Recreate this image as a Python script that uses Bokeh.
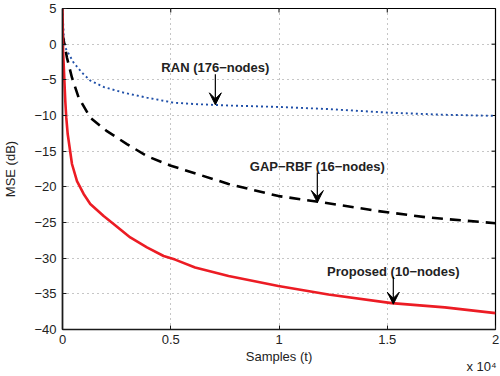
from bokeh.plotting import figure
from bokeh.models import LinearAxis, FixedTicker, Label, Arrow, VeeHead, Range1d
from bokeh.embed import file_html
from bokeh.resources import INLINE

# ---- data ----
ran_t = [0, 60, 129, 516, 900, 1283, 1900, 2820, 3900, 5130, 6125, 7670, 9970, 12280, 15050, 17660, 20000]
ran_mse = [5, 1.0, -0.5, -2.6, -4.0, -5.1, -6.0, -6.8, -7.5, -8.2, -8.4, -8.6, -8.8, -9.1, -9.6, -9.9, -10.05]

gap_t = [0, 207, 438, 747, 1283, 2053, 2975, 3900, 4970, 7670, 9980, 11820, 14590, 16890, 20000]
gap_mse = [1.4, -1.9, -4.7, -7.5, -10.3, -12.2, -14.0, -15.7, -17.0, -19.6, -21.3, -22.1, -23.4, -24.3, -25.1]

prop_t = [0, 28, 129, 175, 240, 438, 669, 977, 1283, 1900, 2360, 3130, 3900, 4670, 5200, 6125, 7670, 9970, 12280, 15200, 17660, 20000]
prop_mse = [5, -1, -8, -10.3, -12.6, -16.8, -19.2, -21.0, -22.4, -24.1, -25.2, -27.1, -28.5, -29.7, -30.2, -31.3, -32.5, -33.9, -35.1, -36.3, -36.9, -37.7]

x_ticks = [0, 5000, 10000, 15000, 20000]
x_tick_labels = ["0", "0.5", "1", "1.5", "2"]
y_ticks = [5, 0, -5, -10, -15, -20, -25, -30, -35, -40]
y_tick_labels = ["5", "0", "\u22125", "\u221210", "\u221215", "\u221220", "\u221225", "\u221230", "\u221235", "\u221240"]

annotations = [
    # text, text_x, text_y, arrow_start_y, arrow_tip_y
    ("RAN (176\u2212nodes)", 7060, -3.25, -4.2, -8.5),
    ("GAP\u2212RBF (16\u2212nodes)", 11770, -17.1, -18.0, -22.2),
    ("Proposed (10\u2212nodes)", 15280, -31.8, -32.6, -36.45),
]

x_label = "Samples (t)"
x_scale_label = "x 10\u2074"

FONT = "Liberation Sans"
TXT = "#222222"

W, H = 500, 376
BL, BR, BT, BB = 61, 5, 8, 47
X0, X1, Y0, Y1 = 0, 20000, -40, 5

p = figure(width=W, height=H, title=None,
           x_range=Range1d(X0, X1), y_range=Range1d(Y0, Y1),
           output_backend="svg", toolbar_location=None,
           min_border_left=BL, min_border_right=BR, min_border_top=BT, min_border_bottom=BB)
p.background_fill_color = "white"
p.border_fill_color = "white"
p.outline_line_color = "black"
p.outline_line_width = 1.2

xt = FixedTicker(ticks=x_ticks)
yt = FixedTicker(ticks=y_ticks)

for ax in [p.xaxis[0], p.yaxis[0]]:
    ax.major_tick_in = 4
    ax.major_tick_out = 0
    ax.minor_tick_in = 0
    ax.minor_tick_out = 0
    ax.axis_line_width = 1.6
    ax.axis_line_color = "#1a1a1a"
    ax.major_tick_line_color = "#1a1a1a"
    ax.major_label_text_font = FONT
    ax.major_label_text_font_size = "13px"
    ax.major_label_text_color = TXT
    ax.axis_label_text_font = FONT
    ax.axis_label_text_font_size = "13px"
    ax.axis_label_text_font_style = "normal"
    ax.axis_label_text_color = TXT
p.xaxis[0].ticker = xt
p.yaxis[0].ticker = yt
p.xaxis[0].major_label_overrides = dict(zip(x_ticks, x_tick_labels))
p.yaxis[0].major_label_overrides = dict(zip(y_ticks, y_tick_labels))
p.xaxis[0].major_label_standoff = 5
p.yaxis[0].major_label_standoff = 6

p.yaxis[0].axis_label = "MSE (dB)"
p.yaxis[0].axis_label_standoff = 13
p.xaxis[0].axis_label = x_label
p.xaxis[0].axis_label_standoff = 2

# the x 10^4 multiplier, drawn as a tick label of a bare axis just under the x-axis title
scale_pos = 19355
ax2 = LinearAxis(ticker=FixedTicker(ticks=[scale_pos]),
                 major_label_overrides={scale_pos: x_scale_label})
ax2.axis_line_color = None
ax2.major_tick_line_color = None
ax2.minor_tick_line_color = None
ax2.major_tick_in = 0
ax2.major_tick_out = 0
ax2.minor_tick_in = 0
ax2.minor_tick_out = 0
ax2.major_label_standoff = -8
ax2.major_label_text_font = FONT
ax2.major_label_text_font_size = "13px"
ax2.major_label_text_color = TXT
p.add_layout(ax2, "below")

for g, tick in [(p.xgrid[0], xt), (p.ygrid[0], yt)]:
    g.ticker = tick
    g.grid_line_color = "#8c8c8c"
    g.grid_line_dash = "1 4"
    g.grid_line_width = 1

# inward ticks on the top and right edges (4 px long)
frame_w = W - BL - BR
frame_h = H - BT - BB
dx = 4 * (X1 - X0) / frame_w
dy = 4 * (Y1 - Y0) / frame_h
p.segment(x0=x_ticks, y0=[Y1] * len(x_ticks), x1=x_ticks, y1=[Y1 - dy] * len(x_ticks),
          line_color="black", line_width=1)
p.segment(x0=[X1] * len(y_ticks), y0=y_ticks, x1=[X1 - dx] * len(y_ticks), y1=y_ticks,
          line_color="black", line_width=1)

p.line(ran_t, ran_mse, line_color="#1f4fa8", line_width=1.9, line_dash="2 3")
p.line(gap_t, gap_mse, line_color="black", line_width=2.6, line_dash="11 7")
p.line(prop_t, prop_mse, line_color="#ec1c24", line_width=2.6)

for text, tx, ty, ys, ye in annotations:
    p.add_layout(Label(x=tx, y=ty, text=text, text_align="center", text_baseline="middle",
                       text_font=FONT, text_font_size="13px", text_font_style="bold",
                       text_color=TXT))
    p.add_layout(Arrow(x_start=tx, y_start=ys, x_end=tx, y_end=ye, line_width=1.2,
                       line_color="black",
                       end=VeeHead(size=12, fill_color="black", line_color="black", line_width=1)))

open("out.html", "w").write(file_html(p, INLINE))
